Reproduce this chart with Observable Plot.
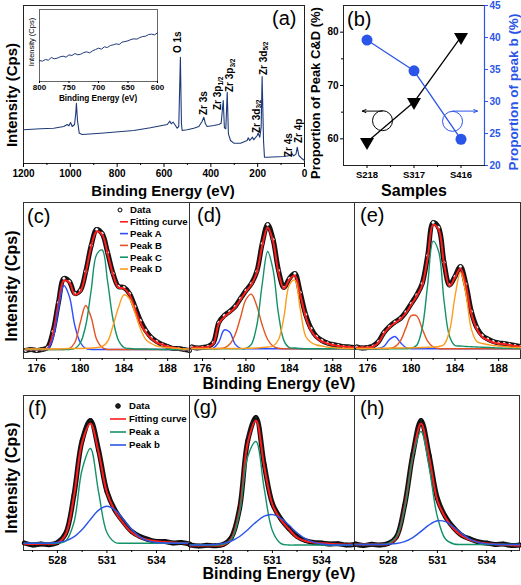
<!DOCTYPE html>
<html>
<head>
<meta charset="utf-8">
<script src="https://cdn.jsdelivr.net/npm/d3@7"></script>
<script src="https://cdn.jsdelivr.net/npm/@observablehq/plot@0.6"></script>
<style>
  html, body { margin: 0; padding: 0; background: #fff; }
  #root { position: relative; width: 521px; height: 585px; overflow: hidden; background: #fff; }
</style>
</head>
<body>
<div id="root"></div>
<script>
// ================= DATA =================
// (a) survey spectrum
const surveyBE = [1200,1127,1071,1028,1013,1006,999,992,982,977,974,969.5,962,949,871,729,658,586,575,569,561,551,544,537,530,525.5,522.5,501,473,451,437,430,423,416,387,366,356,347,342,336,330,325,316,302,273,245,240,234,228,222,217,202,198,191,185,181,175,171,159,89,60,53,46,36,31,24,10,0];
const surveyI  = [33.7,34.7,35.3,37,39,37.7,41,37,39,49.7,60.3,43,30.3,29,30.3,33,35.7,39,42.3,39.7,41.3,38,35.3,37,106.3,39.7,33,33.7,35.3,37,42.3,46.3,39.7,37,38,39,40.3,63,35.7,34.7,71.3,29.7,23,20.3,20.3,23,25.7,23,24.7,26.3,23.7,28,30.3,26.3,36.3,87,23,6.3,6.3,7,8,9.7,7.7,9.7,16.3,8,4.7,3];
const surveyTicks = [1200,1000,800,600,400,200,0];
const surveyMinor = [1100,900,700,500,300,100];
const peakLabelText = ["O 1s","Zr 3s","Zr 3p","Zr 3p","Zr 3d","Zr 3d","Zr 4s","Zr 4p"];
const peakLabelSub  = ["","","1/2","3/2","3/2","5/2","",""];
const peakLabelBE   = [527,414,354,303,188,160,50,8];
const peakLabelI    = [110,48,53,71,30,88,6,20];

// (a) inset
const insetBE = [800,795,790,785,780,775,770,765,760,755,750,745,740,735,730,725,720,715,710,705,700,695,690,685,680,675,670,665,660,655,650,645,640,635,630,625,620,615,610,605,600];
const insetI  = [63,61,66,64,72,68,70,74,76,73,80,78,84,80,82,87,89,86,92,96,100,97,104,102,108,110,113,111,118,120,122,126,128,127,132,135,136,141,142,140,146];
const insetTicks = [800,750,700,650,600];

// (b) proportions
const samples = ["S218","S317","S416"];
const sampleIndex = [0,1,2];
const peakCD = [59.4,66.9,79.1];
const peakB  = [39.6,34.8,24.1];
const leftTicks = [60,70,80];
const leftMinor = [65,75];
const rightTicks = [20,25,30,35,40,45];
const cdMarkX = [0.33], cdMarkY = [63.4], cdArrowX = [0.33,-0.1], cdArrowY = [65.2];
const bMarkX = [1.82], bMarkY = [26.9], bArrowX = [1.82,2.35], bArrowY = [28.5];

// (c)-(e) Zr 3d high-resolution
const zrBE = [175,175.5,176,176.5,177,177.5,178,178.5,179,179.5,180,180.5,181,181.5,182,182.5,183,183.5,184,184.5,185,185.5,186,186.5,187,187.5,188,188.5,189,189.5,190];
const zrTicks = [176,180,184,188];
const zrMinor = [178,182,186];
const cData = [8,9,8,9,11,27,56,80,77,65,68,87,113,129,125,106,85,72,71,65,52,38,28,21,17,14,12,10,10,9,8];
const cFit  = [9,9,9,9,10,25,55,78,76,64,67,86,112,127,124,105,84,71,70,64,50,36,26,20,16,14,12,11,10,9,9];
const cA = [9,9,9,9,9.5,20,50,73,62,33,16,10,9,9,9,9,9,9,9,9,9,9,9,9,9,9,9,9,9,9,9];
const cB = [9,9,9,9,9,9,9,9,10,16,36,53,41,19,11,9,9,9,9,9,9,9,9,9,9,9,9,9,9,9,9];
const cC = [9,9,9,9,9,9,9,9,9,10,15.5,33,68.5,104,108.5,77,39,18,11,10,9.5,9.5,9.5,9.3,9.2,9,9,9,9,9,9];
const cD = [9.5,9.5,9.5,9.5,9.5,9.5,9.5,9.8,10,10,10,10.2,10.5,11,12,17,33,51,63.6,60,46,30,19,15,12.5,11.5,11,10.5,10,9.5,9.5];

const dData = [11.5,10.5,11,12,16,36,43,47,52,60,68,75,87,115,134,119,88,71,80,85,66,44,30,22,18,15.5,14,13,12,11.5,11];
const dFit  = [11,11,11,11.5,15,35,41.5,46,51,59,67,74,86,113,131,117,86,70,79,83,64,42,28,21,17,15,13.5,12.5,12,11.5,11];
const dA = [9.7,9.7,9.7,9.7,10.5,16.4,28.5,26.4,14.4,10.1,9.7,9.7,9.7,9.7,9.7,9.7,9.7,9.7,9.7,9.7,9.7,9.7,9.7,9.7,9.7,9.7,9.7,9.7,9.7,9.7,9.7];
const dB = [9.7,9.7,9.7,9.7,9.7,10,10.7,14.2,23.8,41,59,64.3,52.5,33.5,19,12.3,10.2,9.7,9.7,9.7,9.7,9.7,9.7,9.7,9.7,9.7,9.7,9.7,9.7,9.7,9.7];
const dC = [9.7,9.7,9.7,9.7,9.7,9.7,9.7,9.7,9.7,9.7,10.2,14.2,33,74.5,107,88.6,44.3,17.9,10.8,10.5,10,9.8,9.8,9.8,9.8,9.8,9.8,9.8,9.8,9.8,9.8];
const dD = [10,10,10,10,10,10,10,10,10,10,10.2,10.3,10.5,11,11.5,12.5,19,41.7,73.6,78.5,49.7,22.3,16,13.5,12.5,11.5,11,10.5,10.2,10,10];

const eData = [11.5,10.5,11,12.5,17,26,32,36.5,40,46.5,55,63.5,75,103,136,131,96,73.5,82,92,74.5,47,31,23,19.5,17,15.5,15,14,13,12];
const eFit  = [11,11,11,12,16,25,31.5,35.5,39.5,45.5,54,62.5,73.5,101,133.5,129,94.7,72.5,81,90,73,45,29.5,21.5,18.5,16,15,14.5,13.5,12.5,12];
const eA = [9.7,9.7,9.7,9.7,10,12.3,19,22,16,11,9.8,9.7,9.7,9.7,9.7,9.7,9.7,9.7,9.7,9.7,9.7,9.7,9.7,9.7,9.7,9.7,9.7,9.7,9.7,9.7,9.7];
const eB = [9.7,9.7,9.7,9.7,9.7,9.7,10,11.6,17.7,30.4,42.8,42.5,29.8,17.3,11.5,10,9.7,9.7,9.7,9.7,9.7,9.7,9.7,9.7,9.7,9.7,9.7,9.7,9.7,9.7,9.7];
const eC = [9.7,9.7,9.7,9.7,9.7,9.7,9.7,9.7,9.7,9.7,10.2,13.3,30.3,73.9,117.4,107.3,57.5,22.3,13,12.5,12,11.8,11.5,11.2,11,10.8,10.5,10.3,10.2,10,10];
const eD = [10,10,10,10.1,10.2,10.2,10.3,10.4,10.5,10.6,10.7,10.8,11,11.2,11.5,12,14,27.3,61.8,86.3,64.9,29.4,17,15,14,13,12.5,12,11.5,11,11];

// (f)-(h) O 1s high-resolution
const oBE = [526,526.5,527,527.5,528,528.5,529,529.5,530,530.5,531,531.5,532,532.5,533,533.5,534,534.5,535,535.5,536];
const oTicks = [528,531,534];
const oMinor = [526.5,529.5,532.5,535.5];
const fData = [7.5,5.5,6.5,5.8,7.8,17,55,110,130,100,59,40,28.5,19,14,11,9,9,7.5,8,6.5];
const fFit  = [6.7,6.5,6.7,6.8,7.5,16,54,108,127,98,58,39,27,18,13,10.5,9.3,8.5,8,7.5,7.2];
const fA = [7.3,7.3,7.3,7.3,7.3,9.3,27.8,81,102,58,18,8,7.3,7.3,7.3,7.3,7.3,7.3,7.3,7.3,7.3];
const fB = [7.3,7.3,7.3,7.5,8,9.6,13.6,21,31,40.4,44.3,40.4,31,21,13.6,9.6,8,7.5,7.3,7.3,7.3];
const gData = [5.5,4.5,5.2,4.8,6,13,42,110,133,86,47,32,22,14,10,8,7.5,6.5,6.8,5.5,6];
const gFit  = [5,5,5,5,5.5,12,41,108,130,84,46,31,21.5,13,9.5,8,7.2,6.8,6.3,6,6];
const gA = [5.5,5.5,5.5,5.5,6.1,11,38,94,109,61.8,19.8,7.2,5.5,5.5,5.5,5.5,5.5,5.5,5.5,5.5,5.5];
const gB = [5.5,5.5,5.6,6,7.1,9.5,14,20.8,28.4,34.3,35.9,32.3,25.4,17.8,11.9,8.3,6.5,5.8,5.5,5.5,5.5];
const hData = [6.5,5,6.2,5.5,7,13.5,45,96,130,95,52,33.5,22.5,15,11.5,8.5,7.5,6,6.5,5,5.5];
const hFit  = [6,6,6,6,6.5,12.5,44,94,127,93,50,32.5,21.5,14.5,10.5,8.3,7,6.3,5.8,5.3,5];
const hA = [6,6,6,6,6.9,13.7,41.7,93.5,119,83,33.6,11.2,6.5,6,6,6,6,6,6,6,6];
const hB = [6,6,6,6,6.3,7,8.9,12.9,19.1,25.7,29.7,28.8,23.5,16.7,11.2,8,6.6,6.2,6,6,6];

const zrLegend = ["Data","Fitting curve","Peak A","Peak B","Peak C","Peak D"];
const oLegend = ["Data","Fitting curve","Peak a","Peak b"];

// ================= STYLE =================
const FONT = '"Liberation Sans", Arial, Helvetica, sans-serif';
const NAVY = "#1f3a78";
const RED = "#ff1e1e";
const BLUE = "#2f4cff";
const ORRED = "#e4531f";
const GREEN = "#13916a";
const ORANGE = "#ff9c1e";
const BBLUE = "#2b55e8";
const root = document.getElementById("root");
const NS = "http://www.w3.org/2000/svg";

function place(svg, left, top, extra = {}) {
  Object.assign(svg.style, {
    position: "absolute", left: left + "px", top: top + "px",
    background: "transparent", overflow: "visible", fontFamily: FONT,
    fontWeight: "bold", maxWidth: "none"
  }, extra);
  root.appendChild(svg);
  return svg;
}

// ================= (a) survey =================
const plotA = Plot.plot({
  width: 310, height: 200, marginLeft: 23, marginRight: 6, marginTop: 5, marginBottom: 37,
  x: {domain: [1200, 0], axis: null}, y: {domain: [0, 158], axis: null},
  marks: [
    Plot.frame({stroke: "#222", strokeWidth: 1}),
    Plot.axisX(surveyTicks, {tickSize: 4, tickPadding: 2, label: null, tickFormat: d => String(d)}),
    Plot.axisX(surveyMinor, {tickSize: 2, label: null, tickFormat: () => ""}),
    Plot.line(surveyBE, {x: d => d, y: (d, i) => surveyI[i], stroke: NAVY, strokeWidth: 1.1})
  ]
});
place(plotA, 0, 0, {fontSize: "10px"});

// inset
const plotInset = Plot.plot({
  width: 135, height: 100, marginLeft: 9, marginRight: 8, marginTop: 4, marginBottom: 24,
  x: {domain: [800, 600], axis: null}, y: {domain: [0, 216], axis: null},
  marks: [
    Plot.frame({stroke: "#666", strokeWidth: 1}),
    Plot.axisX(insetTicks, {tickSize: 2, tickPadding: 1, label: null, tickFormat: d => String(d)}),
    Plot.line(insetBE, {x: d => d, y: (d, i) => insetI[i], stroke: NAVY, strokeWidth: 1})
  ]
});
place(plotInset, 30, 5, {fontSize: "8px"});

// ================= (b) proportions =================
const plotB1 = Plot.plot({
  width: 221, height: 200, marginLeft: 43, marginRight: 37, marginTop: 5, marginBottom: 35,
  x: {domain: [-0.5, 2.5], axis: null}, y: {domain: [55, 85], axis: null},
  marks: [
    Plot.frame({stroke: "#222", strokeWidth: 1}),
    Plot.axisX(sampleIndex, {tickSize: 3, tickPadding: 3, label: null, tickFormat: i => samples[i], fontSize: 9.5}),
    Plot.axisX([0.5, 1.5], {tickSize: 2, label: null, tickFormat: () => ""}),
    Plot.axisY(leftTicks, {tickSize: 3, tickPadding: 2, label: null, tickFormat: d => String(d)}),
    Plot.axisY(leftMinor, {tickSize: 2, label: null, tickFormat: () => ""}),
    Plot.line(sampleIndex, {x: d => d, y: (d, i) => peakCD[i], stroke: "#000", strokeWidth: 1.3}),
    Plot.dot(sampleIndex, {x: d => d, y: (d, i) => peakCD[i], symbol: "triangle", rotate: 180, r: 5.2, fill: "#000", stroke: "none"}),
    Plot.dot(cdMarkX, {x: d => d, y: (d, i) => cdMarkY[i], r: 10, stroke: "#000", fill: "none", strokeWidth: 1}),
    Plot.arrow([0], {x1: () => cdArrowX[0], x2: () => cdArrowX[1], y1: () => cdArrowY[0], y2: () => cdArrowY[0], stroke: "#000", strokeWidth: 1, headLength: 6, headAngle: 45})
  ]
});
place(plotB1, 300, 0, {fontSize: "10px"});

const plotB2 = Plot.plot({
  width: 221, height: 200, marginLeft: 43, marginRight: 37, marginTop: 5, marginBottom: 35,
  x: {domain: [-0.5, 2.5], axis: null}, y: {domain: [20, 45], axis: null},
  marks: [
    Plot.ruleX([2.5], {stroke: BBLUE, strokeWidth: 1.2}),
    Plot.axisY(rightTicks, {anchor: "right", tickSize: 3, tickPadding: 2, label: null, tickFormat: d => String(d)}),
    Plot.line(sampleIndex, {x: d => d, y: (d, i) => peakB[i], stroke: BBLUE, strokeWidth: 1.3}),
    Plot.dot(sampleIndex, {x: d => d, y: (d, i) => peakB[i], r: 5.5, fill: BBLUE, stroke: "none"}),
    Plot.dot(bMarkX, {x: d => d, y: (d, i) => bMarkY[i], r: 10, stroke: BBLUE, fill: "none", strokeWidth: 1}),
    Plot.arrow([0], {x1: () => bArrowX[0], x2: () => bArrowX[1], y1: () => bArrowY[0], y2: () => bArrowY[0], stroke: BBLUE, strokeWidth: 1, headLength: 6, headAngle: 45})
  ]
});
place(plotB2, 300, 0, {fontSize: "10px", color: BBLUE});

// ================= spectra panels =================
function spectrum(be, data, fit, comps, colors, o) {
  const w = (o.R - o.L) + 10 + o.mR;
  const marks = [
    Plot.frame({stroke: "#333", strokeWidth: 1}),
    Plot.axisX(o.ticks, {tickSize: 3, tickPadding: 3, label: null, tickFormat: d => String(d)}),
    Plot.axisX(o.minor, {tickSize: 2, label: null, tickFormat: () => ""}),
    Plot.line(be, {x: d => d, y: (d, i) => data[i], stroke: "#141414", strokeWidth: 5, curve: "catmull-rom"}),
    Plot.dot(be, {x: d => d, y: (d, i) => data[i], r: 1.9, fill: o.dotFill, stroke: "#000", strokeWidth: 0.8}),
    Plot.line(be, {x: d => d, y: (d, i) => fit[i], stroke: RED, strokeWidth: 2, curve: "catmull-rom"})
  ];
  comps.forEach((c, k) => marks.push(
    Plot.line(be, {x: d => d, y: (d, i) => c[i], stroke: colors[k], strokeWidth: 1.4, curve: "catmull-rom"})
  ));
  const p = Plot.plot({
    width: w, height: (o.B - o.T) + 8 + 20,
    marginLeft: 10, marginRight: o.mR, marginTop: 8, marginBottom: 20,
    x: {domain: o.xDomain, axis: null}, y: {domain: o.yDomain, axis: null},
    marks
  });
  place(p, o.L - 10, o.T - 8, {fontSize: "11px"});
  return p;
}
const zrColors = [BLUE, ORRED, GREEN, ORANGE];
const zrOpt = {xDomain: [174.8, 190], yDomain: [0, 156], ticks: zrTicks, minor: zrMinor, T: 202, B: 358, dotFill: "#fff"};
spectrum(zrBE, cData, cFit, [cA, cB, cC, cD], zrColors, {...zrOpt, L: 23, R: 189, mR: 10});
spectrum(zrBE, dData, dFit, [dA, dB, dC, dD], zrColors, {...zrOpt, L: 189, R: 354, mR: 10});
spectrum(zrBE, eData, eFit, [eA, eB, eC, eD], zrColors, {...zrOpt, L: 354, R: 520, mR: 1});

const oColors = [GREEN, BBLUE];
const oOpt = {xDomain: [525.95, 536], yDomain: [0, 155], ticks: oTicks, minor: oMinor, T: 395, B: 550, dotFill: "#222"};
spectrum(oBE, fData, fFit, [fA, fB], oColors, {...oOpt, L: 23, R: 189, mR: 10});
spectrum(oBE, gData, gFit, [gA, gB], oColors, {...oOpt, L: 189, R: 354, mR: 10});
spectrum(oBE, hData, hFit, [hA, hB], oColors, {...oOpt, L: 354, R: 519, mR: 2});

// ================= overlay text =================
const ov = document.createElementNS(NS, "svg");
ov.setAttribute("width", 521); ov.setAttribute("height", 585);
Object.assign(ov.style, {position: "absolute", left: "0px", top: "0px", overflow: "visible", pointerEvents: "none"});
root.appendChild(ov);

function T(str, x, y, o = {}) {
  const t = document.createElementNS(NS, "text");
  t.setAttribute("transform", `translate(${x},${y})` + (o.rotate ? ` rotate(${o.rotate})` : ""));
  t.setAttribute("font-size", o.size || 15);
  t.setAttribute("font-weight", o.weight || "bold");
  t.setAttribute("font-family", FONT);
  t.setAttribute("text-anchor", o.anchor || "start");
  t.setAttribute("fill", o.fill || "#000");
  t.textContent = str;
  if (o.sub) {
    const s = document.createElementNS(NS, "tspan");
    s.setAttribute("font-size", o.subSize || 6.5);
    s.setAttribute("dy", o.subDy || 2);
    s.textContent = o.sub;
    t.appendChild(s);
  }
  ov.appendChild(t);
}
function L(x1, y1, x2, y2, color, w) {
  const l = document.createElementNS(NS, "line");
  l.setAttribute("x1", x1); l.setAttribute("y1", y1); l.setAttribute("x2", x2); l.setAttribute("y2", y2);
  l.setAttribute("stroke", color); l.setAttribute("stroke-width", w);
  ov.appendChild(l);
}
function C(cx, cy, r, fill, stroke) {
  const c = document.createElementNS(NS, "circle");
  c.setAttribute("cx", cx); c.setAttribute("cy", cy); c.setAttribute("r", r);
  c.setAttribute("fill", fill); c.setAttribute("stroke", stroke); c.setAttribute("stroke-width", 1);
  ov.appendChild(c);
}

// peak labels in (a), positioned through the survey plot's scales
const sxA = plotA.scale("x"), syA = plotA.scale("y");
peakLabelText.forEach((s, i) => {
  T(s, sxA.apply(peakLabelBE[i]), syA.apply(peakLabelI[i]), {size: 10, rotate: -90, sub: peakLabelSub[i], subSize: 6.5, subDy: 1.5});
});

// axis titles
T("Intensity (Cps)", 17, 95, {size: 15, rotate: -90, anchor: "middle"});
T("Binding Energy (eV)", 163, 196, {size: 15, anchor: "middle"});
T("Intensity (Cps)", 34, 42, {size: 7.5, weight: "normal", rotate: -90, anchor: "middle"});
T("Binding Energy (eV)", 98, 101, {size: 8.2, anchor: "middle"});
T("Samples", 414, 196, {size: 16, anchor: "middle"});
T("Proportion of Peak C&D (%)", 320, 93, {size: 13, rotate: -90, anchor: "middle"});
T("Proportion of peak b (%)", 518, 92, {size: 13.5, rotate: -90, anchor: "middle", fill: BBLUE});
T("Intensity (Cps)", 17, 286, {size: 16, rotate: -90, anchor: "middle"});
T("Binding Energy (eV)", 279, 389, {size: 16, anchor: "middle"});
T("Intensity (Cps)", 17, 478, {size: 16, rotate: -90, anchor: "middle"});
T("Binding Energy (eV)", 279, 579, {size: 16, anchor: "middle"});

// panel letters
const letters = [["(a)", 272, 25], ["(b)", 347, 26], ["(c)", 27, 223], ["(d)", 197, 222], ["(e)", 360, 222], ["(f)", 28, 415], ["(g)", 193, 414], ["(h)", 360, 415]];
letters.forEach(([s, x, y]) => T(s, x, y, {size: 20, weight: "normal"}));

// legends
const zrLegColors = [null, RED, BLUE, ORRED, GREEN, ORANGE];
zrLegend.forEach((s, i) => {
  const y = 210 + i * 11.8;
  if (i === 0) C(120, y, 2, "#fff", "#000");
  else L(120, y, 128, y, zrLegColors[i], 1.6);
  T(s, 130, y + 3.4, {size: 9.6});
});
const oLegColors = [null, RED, GREEN, BBLUE];
oLegend.forEach((s, i) => {
  const y = 406 + i * 13;
  if (i === 0) C(118, y, 2.3, "#222", "#000");
  else L(110, y, 126, y, oLegColors[i], 1.6);
  T(s, 129, y + 3.4, {size: 9.6});
});
</script>
</body>
</html>
